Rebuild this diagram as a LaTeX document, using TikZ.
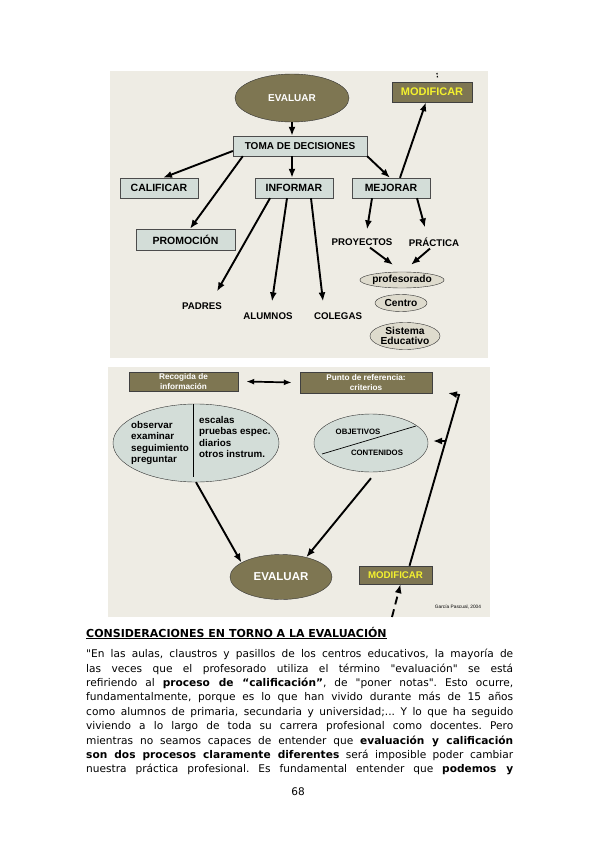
\documentclass[tikz,border=0pt]{standalone}
\usepackage{fontspec}
\setmainfont{DejaVu Sans}
\newfontfamily\diagfont{Liberation Sans}
\newcommand{\sq}{{\XeTeXglyph\XeTeXglyphindex "quotedbl"\relax}}
\usepackage{tikz}
\usetikzlibrary{arrows.meta,shapes.geometric}
\usepackage{xcolor}
\definecolor{panelbg}{HTML}{EEECE4}
\definecolor{olivefill}{HTML}{7E7652}
\definecolor{tealfill}{HTML}{D3DDD8}
\definecolor{ovalfill}{HTML}{DEDBCD}
\definecolor{modyellow}{HTML}{F4F22E}
\frenchspacing

\begin{document}
\begin{tikzpicture}[
    x=1pt, y=-1pt,
    box/.style={draw=black!70, fill=tealfill, inner sep=0pt, minimum height=20pt,
        font=\diagfont\fontsize{10.5}{12}\selectfont\bfseries},
    olivebox/.style={draw=black!75, fill=olivefill, inner sep=0pt, align=center},
    oval/.style={ellipse, draw=black!80, fill=ovalfill, inner sep=0pt, align=center,
        font=\diagfont\fontsize{10.2}{10}\selectfont\bfseries},
    label/.style={inner sep=0pt, font=\diagfont\fontsize{9.7}{11}\selectfont\bfseries},
    arrow/.style={-{Latex[length=9pt,width=7pt]}, line width=1.9pt, draw=black}
]
\useasboundingbox (0,0) rectangle (599,848);
\fill[panelbg] (110,71) rectangle (488,358);
\fill[panelbg] (108,367) rectangle (490,617);

\node[ellipse, draw=black!80, fill=olivefill, minimum width=114pt, minimum height=48pt,
    text=white, font=\diagfont\fontsize{10}{12}\selectfont\bfseries] (evaltop) at (292,98) {EVALUAR};
\node[olivebox, minimum width=80pt, minimum height=20pt, text=modyellow,
    font=\diagfont\fontsize{11}{12}\selectfont\bfseries] (modtop) at (432,92) {MODIFICAR};
\node[box, minimum width=134pt, font=\diagfont\fontsize{10}{12}\selectfont\bfseries] (toma) at (300,146) {TOMA DE DECISIONES};
\node[box, minimum width=78pt] (calificar) at (159,188) {CALIFICAR};
\node[box, minimum width=78pt] (informar) at (294,188) {INFORMAR};
\node[box, minimum width=78pt] (mejorar) at (391,188) {MEJORAR};
\node[box, minimum width=99pt, minimum height=21pt] (promocion) at (185.5,239.5) {PROMOCIÓN};
\node[label] (proyectos) at (362,242) {PROYECTOS};
\node[label] (practica) at (434,242) {PRÁCTICA};
\node[label] (padres) at (202,306) {PADRES};
\node[label] (alumnos) at (268,316) {ALUMNOS};
\node[label] (colegas) at (338,316) {COLEGAS};
\node[oval, minimum width=65pt, minimum height=16pt] (profesorado) at (402,280) {profesorado};
\node[oval, minimum width=52pt, minimum height=17pt] (centro) at (401,303) {Centro};
\node[oval, minimum width=70pt, minimum height=27pt] (sistema) at (405,336) {Sistema\\Educativo};

\coordinate (modmark) at (437,73);
\draw[line width=1.2pt, dash pattern=on 1.5pt off 1.5pt] (modmark) -- ++(0.5,5);
\draw[arrow] (evaltop.south) -- (evaltop.south |- toma.north);
\draw[arrow] ([yshift=-5pt]toma.west) -- ([xshift=4pt]calificar.north);
\draw[arrow] ([xshift=10pt]toma.south west) -- ([xshift=4.5pt]promocion.north);
\draw[arrow] ([xshift=-8pt]toma.south) -- ([xshift=-2pt]informar.north);
\draw[arrow] (toma.south east) -- ([xshift=-1pt]mejorar.north);
\draw[arrow] ([xshift=9pt]mejorar.north) -- ([xshift=-6pt]modtop.south);
\draw[arrow] ([xshift=-24pt]informar.south) -- ([xshift=15pt,yshift=11pt]padres.north);
\draw[arrow] ([xshift=-7pt]informar.south) -- ([xshift=4pt,yshift=11pt]alumnos.north);
\draw[arrow] ([xshift=17pt]informar.south) -- ([xshift=-15pt,yshift=11pt]colegas.north);
\draw[arrow] ([xshift=-19pt]mejorar.south) -- ([xshift=5pt,yshift=9pt]proyectos.north);
\draw[arrow] ([xshift=26pt]mejorar.south) -- ([xshift=-9pt,yshift=10pt]practica.north);
\draw[arrow] ([xshift=8pt,yshift=-2pt]proyectos.south) -- ([xshift=-9pt,yshift=7pt]profesorado.north);
\draw[arrow] ([xshift=-4pt,yshift=-2pt]practica.south) -- ([xshift=9pt,yshift=7pt]profesorado.north);

\node[olivebox, minimum width=109pt, minimum height=19pt, text=white,
    font=\diagfont\fontsize{8.2}{9.5}\selectfont\bfseries] (recogida) at (183.5,381.5) {Recogida de\\información};
\node[olivebox, minimum width=132pt, minimum height=21pt, text=white,
    font=\diagfont\fontsize{8.2}{9.5}\selectfont\bfseries] (punto) at (366,382.5) {Punto de referencia:\\criterios};
\node[ellipse, draw=black!80, fill=tealfill, minimum width=166pt, minimum height=78pt] (leftell) at (196,443) {};
\node[ellipse, draw=black!80, fill=tealfill, minimum width=114pt, minimum height=58pt] (rightell) at (371,443) {};
\draw[line width=0.8pt] ([xshift=-3pt]leftell.north) -- ([xshift=-3pt,yshift=5pt]leftell.south);
\node[anchor=north west, inner sep=0pt, align=left,
    font=\diagfont\fontsize{9.8}{11.5}\selectfont\bfseries] (metodos) at (131,421) {observar\\examinar\\seguimiento\\preguntar};
\node[anchor=north west, inner sep=0pt, align=left,
    font=\diagfont\fontsize{9.8}{11.5}\selectfont\bfseries] (instrumentos) at (199,416) {escalas\\pruebas espec.\\diarios\\otros instrum.};
\coordinate (diagA) at (322,454);
\coordinate (diagB) at (416,426);
\draw[line width=0.7pt] (diagA) -- (diagB);
\node[label, font=\diagfont\fontsize{7.8}{9}\selectfont\bfseries] (objetivos) at (358,432) {OBJETIVOS};
\node[label, font=\diagfont\fontsize{7.8}{9}\selectfont\bfseries] (contenidos) at (377,453) {CONTENIDOS};
\node[ellipse, draw=black!80, fill=olivefill, minimum width=102pt, minimum height=45pt,
    text=white, font=\diagfont\fontsize{11.5}{12}\selectfont\bfseries] (evalbot) at (281,577) {EVALUAR};
\node[olivebox, minimum width=73pt, minimum height=18pt, text=modyellow,
    font=\diagfont\fontsize{9.7}{11}\selectfont\bfseries] (modbot) at (395.5,575) {MODIFICAR};
\node[inner sep=0pt, font=\diagfont\fontsize{4.8}{5}\selectfont] (cita) at (458,607) {García Pascual, 2004};

\coordinate (topend) at (459,395);
\coordinate (toptip) at (448,393);
\coordinate (midend) at (446,441);
\coordinate (midtip) at (433,441);
\coordinate (dashstart) at (392,617);
\draw[{Latex[length=8pt,width=6pt]}-{Latex[length=8pt,width=6pt]}, line width=1.7pt] ([xshift=8pt]recogida.east) -- ([xshift=-8pt]punto.west);
\draw[arrow] (leftell.south) -- (evalbot.160);
\draw[arrow] ([yshift=-6pt]rightell.south) -- (evalbot.38);
\draw[arrow] ([xshift=14pt]modbot.north) -- (topend) -- (toptip);
\draw[arrow] (midend) -- (midtip);
\draw[arrow, dash pattern=on 8pt off 5pt] (dashstart) -- ([xshift=5pt]modbot.south);

\node[anchor=base west, inner sep=0pt, font=\fontsize{11}{12}\selectfont\bfseries] (titulo) at (86,637)
    {\underline{CONSIDERACIONES EN TORNO A LA EVALUACIÓN}};
\node[anchor=north west, inner sep=0pt, text width=427pt, align=justify,
    font=\fontsize{10.6}{14.4}\selectfont] (parrafo) at (86,649)
    {\sq En las aulas, claustros y pasillos de los centros educativos, la mayoría de\linebreak
    las veces que el profesorado utiliza el término \sq evaluación\sq{} se está\linebreak
    refiriendo al \textbf{proceso de “calificación”}, de \sq poner notas\sq. Esto ocurre,\linebreak
    fundamentalmente, porque es lo que han vivido durante más de 15 años\linebreak
    como alumnos de primaria, secundaria y universidad;... Y lo que ha seguido\linebreak
    viviendo a lo largo de toda su carrera profesional como docentes. Pero\linebreak
    mientras no seamos capaces de entender que \textbf{evaluación y calificación}\linebreak
    \textbf{son dos procesos claramente diferentes} será imposible poder cambiar\linebreak
    nuestra práctica profesional. Es fundamental entender que \textbf{podemos y}\linebreak};
\node[anchor=base, inner sep=0pt, font=\fontsize{10.5}{12}\selectfont] (pagina) at (298,795) {68};
\end{tikzpicture}
\end{document}
